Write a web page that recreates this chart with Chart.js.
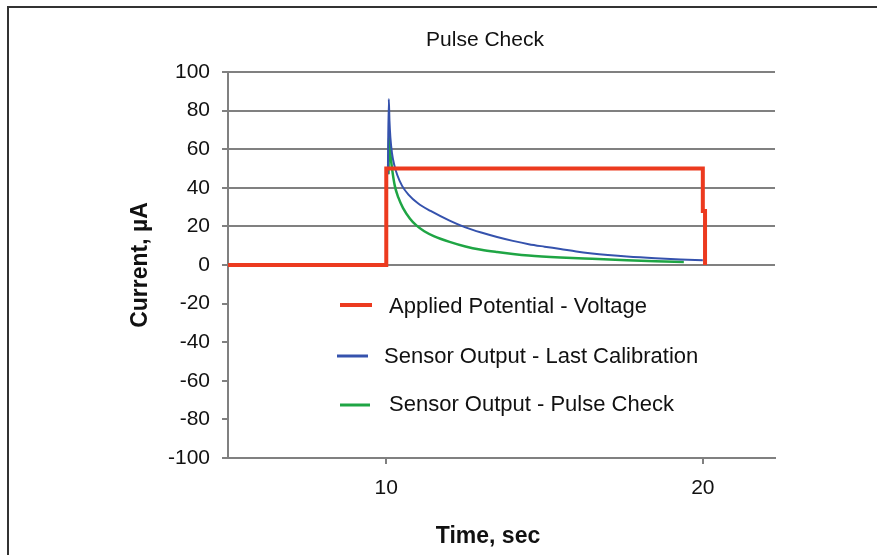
<!DOCTYPE html>
<html>
<head>
<meta charset="utf-8">
<script src="https://cdn.jsdelivr.net/npm/chart.js@4/dist/chart.umd.min.js"></script>
<style>
  html, body { margin: 0; padding: 0; background: #fff; overflow: hidden; }
  #wrap { position: relative; width: 877px; height: 555px; }
  #frame {
    position: absolute; left: 7px; top: 6px; width: 900px; height: 600px;
    border-left: 2px solid #333; border-top: 2px solid #333;
  }
  canvas { position: absolute; left: 0; top: 0; }
</style>
</head>
<body>
<div id="wrap">
  <div id="frame"></div>
  <canvas id="pulseChart" width="877" height="555"></canvas>
</div>
<script>
// --- data ---
const voltageTime = [5, 10, 10, 20, 20, 20.07, 20.07];
const voltageCurrent = [0, 0, 50, 50, 28, 28, 0];

const lastCalTime = [10.05, 10.08, 10.1, 10.13, 10.18, 10.25, 10.35, 10.5, 10.7, 11, 11.4, 12, 12.5, 13, 13.5, 14, 14.5, 15, 15.5, 16, 16.5, 17, 17.6, 18.5, 19.3, 20];
const lastCalCurrent = [47, 86, 75, 66, 58, 52, 46.5, 41, 36.5, 32, 28, 23, 19.5, 16.8, 14.5, 12.5, 10.8, 9.5, 8.3, 7, 6, 5.2, 4.4, 3.5, 2.9, 2.5];

const pulseTime = [10.07, 10.09, 10.11, 10.14, 10.19, 10.27, 10.38, 10.53, 10.75, 10.95, 11.2, 11.5, 12, 12.5, 13, 13.5, 14, 14.5, 15.5, 16.5, 17.6, 18.5, 19.4];
const pulseCurrent = [47, 67, 62, 56, 49, 41, 35, 29.5, 24, 20.5, 17.5, 15, 12, 9.6, 7.9, 6.7, 5.7, 4.9, 3.9, 3.2, 2.5, 2, 1.6];

const seriesLabels = ["Applied Potential - Voltage", "Sensor Output - Last Calibration", "Sensor Output - Pulse Check"];
const xTicks = [10, 20];

const toPoints = (xs, ys) => xs.map((x, i) => ({ x, y: ys[i] }));

const FONT = "'Liberation Sans', Arial, sans-serif";
const GRID = "#808080";
const TEXT = "#111";

// title, x-axis title and the legend sit at fixed spots in the original
const overlay = {
  id: "overlay",
  afterDraw(chart) {
    const { ctx } = chart;
    ctx.save();
    ctx.fillStyle = TEXT;
    ctx.textBaseline = "middle";

    ctx.font = "21px " + FONT;
    ctx.textAlign = "center";
    ctx.fillText("Pulse Check", 485, 40);

    ctx.font = "bold 23px " + FONT;
    ctx.fillText("Time, sec", 488, 537);

    // legend
    const rows = [
      { x0: 340, x1: 372, ly: 305, tx: 389, ty: 307 },
      { x0: 337, x1: 368, ly: 356, tx: 384, ty: 357 },
      { x0: 340, x1: 370, ly: 405, tx: 389, ty: 405 },
    ];
    ctx.font = "22px " + FONT;
    ctx.textAlign = "left";
    chart.data.datasets.forEach((ds, i) => {
      const r = rows[i];
      ctx.strokeStyle = ds.borderColor;
      ctx.lineWidth = i === 0 ? 4 : 3;
      ctx.beginPath();
      ctx.moveTo(r.x0, r.ly);
      ctx.lineTo(r.x1, r.ly);
      ctx.stroke();
      ctx.fillStyle = TEXT;
      ctx.fillText(ds.label, r.tx, r.ty);
    });
    ctx.restore();
  }
};

new Chart(document.getElementById("pulseChart"), {
  type: "line",
  data: {
    datasets: [
      {
        label: seriesLabels[0],
        data: toPoints(voltageTime, voltageCurrent),
        borderColor: "#ec3a1f",
        borderWidth: 4,
        tension: 0,
        order: 0,
      },
      {
        label: seriesLabels[1],
        data: toPoints(lastCalTime, lastCalCurrent),
        borderColor: "#3552ad",
        borderWidth: 2,
        cubicInterpolationMode: "monotone",
        order: 1,
      },
      {
        label: seriesLabels[2],
        data: toPoints(pulseTime, pulseCurrent),
        borderColor: "#1fa544",
        borderWidth: 2.5,
        cubicInterpolationMode: "monotone",
        order: 2,
      },
    ],
  },
  options: {
    responsive: false,
    animation: false,
    devicePixelRatio: 1,
    layout: { padding: { top: 72, right: 102, left: 0, bottom: 0 } },
    elements: { point: { radius: 0 } },
    plugins: {
      legend: { display: false },
      title: { display: false },
      tooltip: { enabled: false },
    },
    scales: {
      x: {
        type: "linear",
        min: 5,
        max: 22.28,
        afterFit: s => { s.height = 97; },
        afterBuildTicks: s => { s.ticks = xTicks.map(v => ({ value: v })); },
        grid: { drawOnChartArea: false, drawTicks: true, tickLength: 6, color: GRID, lineWidth: 2 },
        border: { color: GRID, width: 2 },
        ticks: { color: TEXT, font: { family: FONT, size: 21 }, padding: 12, maxRotation: 0 },
      },
      y: {
        min: -100,
        max: 100,
        afterFit: s => { s.width = 228; },
        grid: {
          color: c => (c.tick && c.tick.value >= 0 ? GRID : "rgba(0,0,0,0)"),
          tickColor: GRID,
          lineWidth: 2,
          tickLength: 6,
        },
        border: { color: GRID, width: 2 },
        ticks: { stepSize: 20, color: TEXT, font: { family: FONT, size: 21 }, padding: 12 },
        title: {
          display: true,
          text: "Current, µA",
          color: TEXT,
          font: { family: FONT, size: 23, weight: "bold" },
          padding: { top: 127, bottom: 0 },
        },
      },
    },
  },
  plugins: [overlay],
});
</script>
</body>
</html>
